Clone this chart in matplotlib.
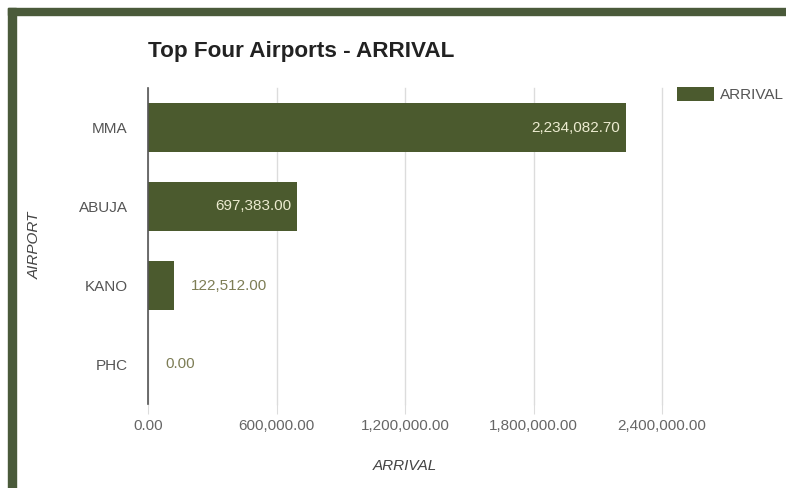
import matplotlib.pyplot as plt
from matplotlib.patches import Rectangle
from matplotlib.ticker import FuncFormatter

plt.rcParams["font.family"] = ["Liberation Sans", "DejaVu Sans"]

# data
airports = ["MMA", "ABUJA", "KANO", "PHC"]
arrivals = [2234082.70, 697383.00, 122512.00, 0.00]
x_ticks = [0, 600000, 1200000, 1800000, 2400000]

olive = "#4b5a2e"
frame = "#4a5a3a"
fs = 11

fig = plt.figure(figsize=(7.86, 4.88), dpi=100)
fig.patch.set_facecolor("white")

# dark frame top and left
W, H = 786, 488
fig.patches.append(Rectangle((8 / W, 0), 8 / W, 1 - 8 / H, transform=fig.transFigure,
                             color=frame, zorder=0))
fig.patches.append(Rectangle((8 / W, 1 - 15 / H), 1, 7 / H, transform=fig.transFigure,
                             color=frame, zorder=0))

ax = fig.add_axes([148 / W, 1 - 404 / H, (662 - 148) / W, (404 - 88) / H])
ypos = list(range(len(airports)))
bars = ax.barh(ypos, arrivals, height=0.63, color=olive, label="ARRIVAL", zorder=3)
ax.set_ylim(len(airports) - 0.5, -0.5)
ax.set_xlim(0, 2400000)
ax.set_yticks(ypos)
ax.set_yticklabels(airports)
ax.set_xticks(x_ticks)
ax.xaxis.set_major_formatter(FuncFormatter(lambda v, p: f"{v:,.2f}"))

ax.grid(axis="x", color="#dcdcdc", linewidth=1, zorder=0)
for gl in ax.get_xgridlines():
    gl.set_clip_on(False)
for s in ["top", "right", "bottom"]:
    ax.spines[s].set_visible(False)
ax.spines["left"].set_color("#555555")
ax.spines["left"].set_linewidth(1.2)
ax.spines["left"].set_zorder(4)
ax.tick_params(axis="x", length=7, color="#dcdcdc", labelsize=fs, labelcolor="#666666", pad=4)
ax.tick_params(axis="y", length=0, labelsize=fs, labelcolor="#555555", pad=14.5)

# value labels
for b, v in zip(bars, arrivals):
    txt = f"{v:,.2f}"
    yc = b.get_y() + b.get_height() / 2
    if v > 400000:
        ax.text(v - 28000, yc, txt, ha="right", va="center", color="#ecebd0",
                fontsize=fs, zorder=5)
    else:
        ax.text(v + 79000, yc, txt, ha="left", va="center", color="#7d7d55",
                fontsize=fs, zorder=5)

fig.text(148 / W, 1 - 52 / H, "Top Four Airports - ARRIVAL", fontsize=16.2,
         fontweight="bold", color="#222222", va="center", ha="left")
fig.text(405 / W, 1 - 466 / H, "ARRIVAL", fontsize=fs, style="italic",
         color="#444444", ha="center", va="center")
fig.text(35 / W, 1 - 245 / H, "AIRPORT", fontsize=fs, style="italic",
         color="#444444", ha="center", va="center", rotation=90)

fig.legend(handles=[bars], labels=["ARRIVAL"], loc="upper left",
           bbox_to_anchor=(677 / W, 1 - 87 / H), frameon=False, fontsize=fs,
           handlelength=2.4, handleheight=1.0, handletextpad=0.4, labelcolor="#555555",
           borderaxespad=0, borderpad=0)

fig.savefig("out.png", dpi=100)
